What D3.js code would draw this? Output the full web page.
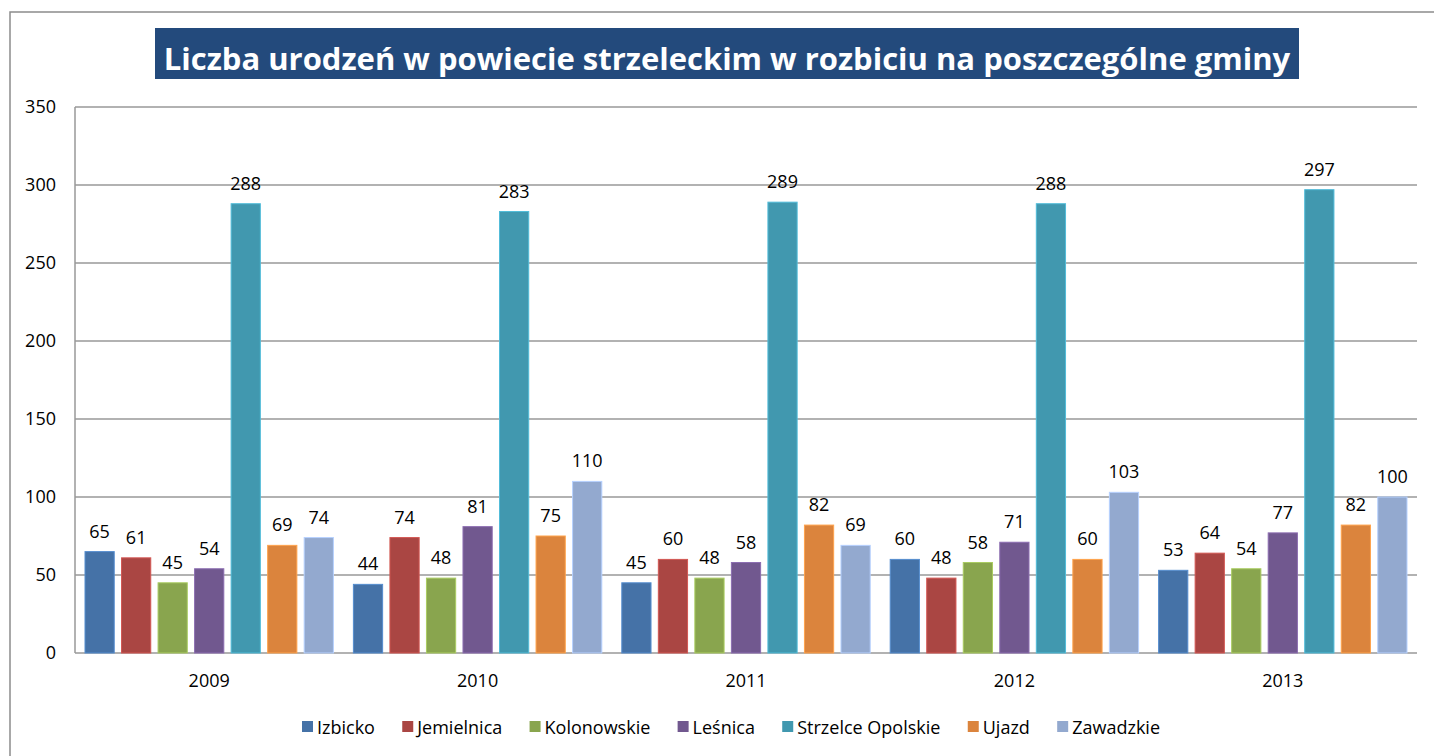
<!DOCTYPE html>
<html>
<head>
<meta charset="utf-8">
<script src="https://cdn.jsdelivr.net/npm/d3@7"></script>
<style>
  body { margin: 0; background: #fff; }
  svg { display: block; font-family: "Open Sans", sans-serif; }
</style>
</head>
<body>
<svg id="chart"></svg>
<script>
// data
var years = ['2009', '2010', '2011', '2012', '2013'];
var gminy = ['Izbicko', 'Jemielnica', 'Kolonowskie', 'Leśnica', 'Strzelce Opolskie', 'Ujazd', 'Zawadzkie'];
var colors = ['#4572A7', '#AA4643', '#89A54E', '#71588F', '#4198AF', '#DB843D', '#93A9CF'];
var izbicko = [65, 44, 45, 60, 53];
var jemielnica = [61, 74, 60, 48, 64];
var kolonowskie = [45, 48, 48, 58, 54];
var lesnica = [54, 81, 58, 71, 77];
var strzelce = [288, 283, 289, 288, 297];
var ujazd = [69, 75, 82, 60, 82];
var zawadzkie = [74, 110, 69, 103, 100];
var yTicks = [0, 50, 100, 150, 200, 250, 300, 350];
var title = 'Liczba urodzeń w powiecie strzeleckim w rozbiciu na poszczególne gminy';

var series = [izbicko, jemielnica, kolonowskie, lesnica, strzelce, ujazd, zawadzkie];

var W = 1434, H = 756;
var plot = { left: 75, right: 1417, top: 107, bottom: 653 };
var fs = '18px';

var svg = d3.select('#chart').attr('width', W).attr('height', H);

// outer frame
svg.append('rect')
    .attr('x', 10).attr('y', 12)
    .attr('width', W + 40).attr('height', H + 40)
    .attr('fill', 'none')
    .attr('stroke', '#8c8c8c')
    .attr('stroke-width', 1.5);

// title
svg.append('rect')
    .attr('x', 155).attr('y', 28)
    .attr('width', 1144).attr('height', 51)
    .attr('fill', '#234A7C');

var titleText = svg.append('text')
    .attr('x', 727).attr('y', 70)
    .attr('text-anchor', 'middle')
    .attr('fill', '#fff')
    .style('font-weight', 'bold')
    .style('font-size', '31px')
    .text(title);

// fit title into its box
var tw = titleText.node().getComputedTextLength();
if (tw > 1128) titleText.style('font-size', (31 * 1128 / tw) + 'px');

// scales
var x = d3.scaleBand().domain(years).range([plot.left, plot.right]);
var xInner = d3.scaleBand()
    .domain(d3.range(gminy.length))
    .range([10, x.bandwidth() - 10])
    .paddingInner(0.2);
var y = d3.scaleLinear().domain([0, 350]).range([plot.bottom, plot.top]);

// grid
svg.append('g')
    .selectAll('line')
    .data(yTicks)
    .enter().append('line')
    .attr('x1', plot.left).attr('x2', plot.right)
    .attr('y1', function (d) { return y(d); })
    .attr('y2', function (d) { return y(d); })
    .attr('stroke', '#999')
    .attr('stroke-width', 1.5);

svg.append('line')
    .attr('x1', plot.left).attr('x2', plot.left)
    .attr('y1', plot.top).attr('y2', plot.bottom)
    .attr('stroke', '#999')
    .attr('stroke-width', 1.5);

// y tick labels
svg.append('g')
    .selectAll('text')
    .data(yTicks)
    .enter().append('text')
    .attr('x', 56)
    .attr('y', function (d) { return y(d); })
    .attr('dy', '0.36em')
    .attr('text-anchor', 'end')
    .style('font-size', fs)
    .attr('fill', '#000')
    .text(function (d) { return d; });

// x labels
svg.append('g')
    .selectAll('text')
    .data(years)
    .enter().append('text')
    .attr('x', function (d) { return x(d) + x.bandwidth() / 2; })
    .attr('y', 687)
    .attr('text-anchor', 'middle')
    .style('font-size', fs)
    .attr('fill', '#000')
    .text(function (d) { return d; });

// bars
var groups = svg.append('g')
    .selectAll('g')
    .data(years)
    .enter().append('g')
    .attr('transform', function (d) { return 'translate(' + x(d) + ',0)'; });

var cells = groups.selectAll('g')
    .data(function (yr, i) {
        return series.map(function (s, k) { return { k: k, v: s[i] }; });
    })
    .enter().append('g');

cells.append('rect')
    .attr('x', function (d) { return xInner(d.k); })
    .attr('y', function (d) { return y(d.v); })
    .attr('width', xInner.bandwidth())
    .attr('height', function (d) { return y(0) - y(d.v); })
    .attr('fill', function (d) { return colors[d.k]; })
    .attr('stroke', function (d) { return d3.color(colors[d.k]).brighter(0.6); })
    .attr('stroke-width', 1);

cells.append('text')
    .attr('x', function (d) { return xInner(d.k) + xInner.bandwidth() / 2; })
    .attr('y', function (d) { return y(d.v) - 14; })
    .attr('text-anchor', 'middle')
    .style('font-size', fs)
    .attr('fill', '#000')
    .text(function (d) { return d.v; });

// legend, spread between the same ends as the original
var legendLeft = 302, legendRight = 1160;
var legend = svg.append('g');
var items = legend.selectAll('g')
    .data(gminy)
    .enter().append('g');

items.append('rect')
    .attr('y', 721)
    .attr('width', 11).attr('height', 11)
    .attr('fill', function (d, i) { return colors[i]; });

items.append('text')
    .attr('x', 15)
    .attr('y', 734)
    .style('font-size', fs)
    .attr('fill', '#000')
    .text(function (d) { return d; });

var widths = [];
items.each(function () {
    widths.push(15 + d3.select(this).select('text').node().getComputedTextLength());
});
var gap = (legendRight - legendLeft - d3.sum(widths)) / (gminy.length - 1);
var lx = legendLeft;
items.each(function (d, i) {
    d3.select(this).attr('transform', 'translate(' + lx + ',0)');
    lx += widths[i] + gap;
});
</script>
</body>
</html>
